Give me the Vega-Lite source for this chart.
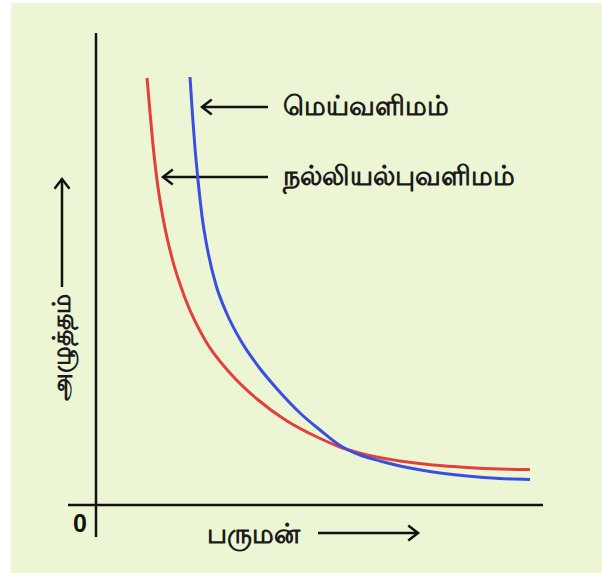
{
  "$schema": "https://vega.github.io/schema/vega-lite/v6.json",
  "width": 602,
  "height": 573,
  "autosize": {"type": "fit", "contains": "padding"},
  "padding": 0,
  "background": "#ffffff",
  "config": {"view": {"stroke": null}},
  "datasets": {
    "bg": [{"x": -2.125, "x2": 12.65, "y": 12.55, "y2": -1.7}],
    "rules": [
      {"name": "yaxis", "x": 0, "x2": 0, "y": -0.8, "y2": 11.8},
      {"name": "xaxis", "x": -0.7, "x2": 11.175, "y": 0, "y2": 0},
      {"name": "xarrow", "x": 5.55, "x2": 8.05, "y": -0.7, "y2": -0.7},
      {"name": "yarrow", "x": -0.85, "x2": -0.85, "y": 5.45, "y2": 8.15},
      {"name": "a1", "x": 2.65, "x2": 4.3, "y": 9.95, "y2": 9.95},
      {"name": "a2", "x": 1.675, "x2": 4.3, "y": 8.2, "y2": 8.2}
    ],
    "curves": [
      {"gas": "ideal", "v": 1.275, "p": 10.675},
      {"gas": "ideal", "v": 1.35, "p": 9.825},
      {"gas": "ideal", "v": 1.425, "p": 9.0},
      {"gas": "ideal", "v": 1.525, "p": 8.125},
      {"gas": "ideal", "v": 1.675, "p": 7.175},
      {"gas": "ideal", "v": 1.9, "p": 6.175},
      {"gas": "ideal", "v": 2.225, "p": 5.175},
      {"gas": "ideal", "v": 2.725, "p": 4.125},
      {"gas": "ideal", "v": 3.35, "p": 3.3},
      {"gas": "ideal", "v": 4.025, "p": 2.65},
      {"gas": "ideal", "v": 4.775, "p": 2.1},
      {"gas": "ideal", "v": 5.525, "p": 1.7},
      {"gas": "ideal", "v": 6.1, "p": 1.45},
      {"gas": "ideal", "v": 6.775, "p": 1.25},
      {"gas": "ideal", "v": 7.6, "p": 1.1},
      {"gas": "ideal", "v": 8.425, "p": 1.0},
      {"gas": "ideal", "v": 9.275, "p": 0.9375},
      {"gas": "ideal", "v": 10.1, "p": 0.9},
      {"gas": "ideal", "v": 10.85, "p": 0.8875},
      {"gas": "real", "v": 2.35, "p": 10.7},
      {"gas": "real", "v": 2.4125, "p": 9.75},
      {"gas": "real", "v": 2.475, "p": 8.925},
      {"gas": "real", "v": 2.55, "p": 8.125},
      {"gas": "real", "v": 2.65, "p": 7.225},
      {"gas": "real", "v": 2.8, "p": 6.325},
      {"gas": "real", "v": 3.0, "p": 5.5},
      {"gas": "real", "v": 3.275, "p": 4.775},
      {"gas": "real", "v": 3.625, "p": 4.1},
      {"gas": "real", "v": 4.05, "p": 3.475},
      {"gas": "real", "v": 4.55, "p": 2.875},
      {"gas": "real", "v": 5.1, "p": 2.3},
      {"gas": "real", "v": 5.6, "p": 1.875},
      {"gas": "real", "v": 6.1, "p": 1.4875},
      {"gas": "real", "v": 6.6, "p": 1.25},
      {"gas": "real", "v": 7.1, "p": 1.1},
      {"gas": "real", "v": 7.6, "p": 0.975},
      {"gas": "real", "v": 8.425, "p": 0.825},
      {"gas": "real", "v": 9.275, "p": 0.725},
      {"gas": "real", "v": 10.1, "p": 0.6625},
      {"gas": "real", "v": 10.85, "p": 0.6375}
    ],
    "heads_left": [{"x": 2.65, "y": 9.95}, {"x": 1.675, "y": 8.2}],
    "heads_right": [{"x": 8.05, "y": -0.7}],
    "heads_up": [{"x": -0.85, "y": 8.15}],
    "labels": [
      {"text": "மெய்வளிமம்", "x": 4.675, "y": 9.95},
      {"text": "நல்லியல்புவளிமம்", "x": 4.675, "y": 8.2}
    ],
    "xtitle": [{"text": "பருமன்", "x": 3.925, "y": -0.75}],
    "ytitle": [{"text": "அழுத்தம்", "x": -0.85, "y": 3.95}],
    "zero": [{"text": "0", "x": -0.4, "y": -0.475}]
  },
  "layer": [
    {
      "data": {"name": "bg"},
      "mark": {"type": "rect", "color": "#edf6d4"},
      "encoding": {
        "x": {"field": "x", "type": "quantitative", "scale": {"domain": [-2.4, 12.65], "nice": false, "zero": false}, "axis": null},
        "x2": {"field": "x2"},
        "y": {"field": "y", "type": "quantitative", "scale": {"domain": [-1.7, 12.625], "nice": false, "zero": false}, "axis": null},
        "y2": {"field": "y2"}
      }
    },
    {
      "data": {"name": "rules"},
      "mark": {"type": "rule", "color": "#111111", "strokeWidth": 2.5},
      "encoding": {
        "x": {"field": "x", "type": "quantitative"},
        "x2": {"field": "x2"},
        "y": {"field": "y", "type": "quantitative"},
        "y2": {"field": "y2"}
      }
    },
    {
      "data": {"name": "curves"},
      "mark": {"type": "line", "strokeWidth": 3, "interpolate": "monotone"},
      "encoding": {
        "x": {"field": "v", "type": "quantitative"},
        "y": {"field": "p", "type": "quantitative"},
        "color": {"field": "gas", "type": "nominal", "scale": {"domain": ["ideal", "real"], "range": ["#e2413b", "#3a4fe0"]}, "legend": null}
      }
    },
    {
      "data": {"name": "heads_left"},
      "mark": {"type": "point", "shape": "M -1.3 -1 L 0 0 L -1.3 1", "size": 225, "angle": 180, "filled": false, "stroke": "#111111", "strokeWidth": 2.5, "opacity": 1},
      "encoding": {
        "x": {"field": "x", "type": "quantitative"},
        "y": {"field": "y", "type": "quantitative"}
      }
    },
    {
      "data": {"name": "heads_right"},
      "mark": {"type": "point", "shape": "M -1.3 -1 L 0 0 L -1.3 1", "size": 225, "angle": 0, "filled": false, "stroke": "#111111", "strokeWidth": 2.5, "opacity": 1},
      "encoding": {
        "x": {"field": "x", "type": "quantitative"},
        "y": {"field": "y", "type": "quantitative"}
      }
    },
    {
      "data": {"name": "heads_up"},
      "mark": {"type": "point", "shape": "M -1.3 -1 L 0 0 L -1.3 1", "size": 225, "angle": 270, "filled": false, "stroke": "#111111", "strokeWidth": 2.5, "opacity": 1},
      "encoding": {
        "x": {"field": "x", "type": "quantitative"},
        "y": {"field": "y", "type": "quantitative"}
      }
    },
    {
      "data": {"name": "labels"},
      "mark": {"type": "text", "align": "left", "baseline": "middle", "fontSize": 27, "fontWeight": "bold", "font": "Noto Sans", "color": "#1a1a1a"},
      "encoding": {
        "x": {"field": "x", "type": "quantitative"},
        "y": {"field": "y", "type": "quantitative"},
        "text": {"field": "text"}
      }
    },
    {
      "data": {"name": "xtitle"},
      "mark": {"type": "text", "align": "center", "baseline": "middle", "fontSize": 27, "fontWeight": "bold", "font": "Noto Sans", "color": "#1a1a1a"},
      "encoding": {
        "x": {"field": "x", "type": "quantitative"},
        "y": {"field": "y", "type": "quantitative"},
        "text": {"field": "text"}
      }
    },
    {
      "data": {"name": "ytitle"},
      "mark": {"type": "text", "align": "center", "baseline": "middle", "angle": 270, "fontSize": 25, "fontWeight": "bold", "font": "Noto Sans", "color": "#1a1a1a"},
      "encoding": {
        "x": {"field": "x", "type": "quantitative"},
        "y": {"field": "y", "type": "quantitative"},
        "text": {"field": "text"}
      }
    },
    {
      "data": {"name": "zero"},
      "mark": {"type": "text", "align": "center", "baseline": "middle", "fontSize": 25, "fontWeight": "bold", "font": "Liberation Sans", "color": "#111111"},
      "encoding": {
        "x": {"field": "x", "type": "quantitative"},
        "y": {"field": "y", "type": "quantitative"},
        "text": {"field": "text"}
      }
    }
  ]
}
